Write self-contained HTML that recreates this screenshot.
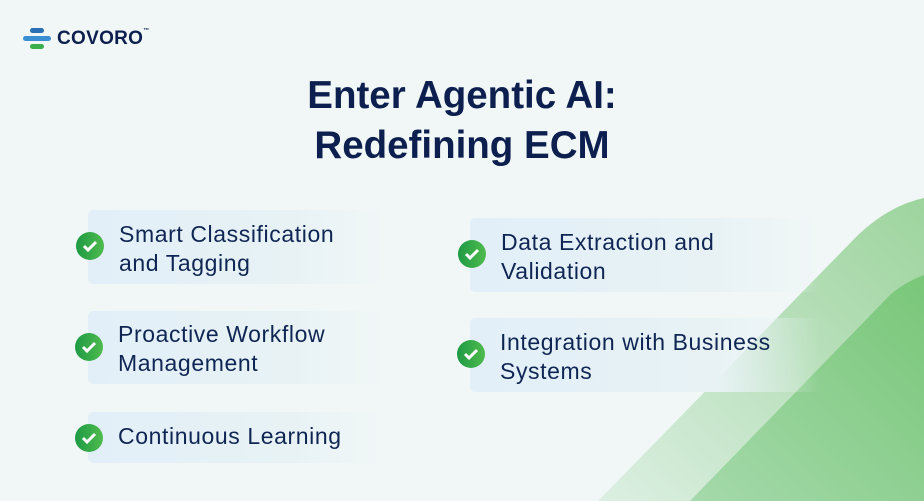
<!DOCTYPE html>
<html><head><style>
body{margin:0;width:924px;height:501px;overflow:hidden;background:#f1f7f7;font-family:"Liberation Sans",sans-serif;position:relative}
.card{position:absolute;border-radius:5px;background:linear-gradient(90deg,#e2eff8 0%,#e8f2f5 70%,rgba(236,244,246,0) 100%)}
.t{position:absolute;color:#0f2553;font-size:23px;line-height:29px;letter-spacing:0.6px}
.ic{position:absolute;width:28px;height:28px;border-radius:50%;background:linear-gradient(90deg,#1e9a45,#4fbb4d)}
.ic svg{position:absolute;left:6px;top:7px}
h1{position:absolute;left:0;width:924px;top:71px;margin:0;text-align:center;font-size:38.5px;line-height:50px;color:#0d1f4e;font-weight:bold}
</style></head><body>
<svg width="924" height="501" style="position:absolute;left:0;top:0">
<defs><linearGradient id="g1" x1="0" y1="1" x2="1" y2="0"><stop offset="0" stop-color="#dcefe2"/><stop offset="1" stop-color="#9dd49d"/></linearGradient>
<linearGradient id="g2" x1="0" y1="1" x2="1" y2="0"><stop offset="0" stop-color="#a5d9ab"/><stop offset="1" stop-color="#79c779"/></linearGradient></defs>
<path d="M598 501 L858 235 Q890 205 924 198 L924 501 Z" fill="url(#g1)"/>
<path d="M690 501 L890 295 Q905 282 924 275 L924 501 Z" fill="url(#g2)"/>
</svg>
<div style="position:absolute;left:30px;top:28px;width:14px;height:5px;border-radius:3px;background:#2a6fb3"></div>
<div style="position:absolute;left:23px;top:36px;width:28px;height:5px;border-radius:3px;background:#3a8fd2"></div>
<div style="position:absolute;left:30px;top:44px;width:14px;height:5px;border-radius:3px;background:#3aae4c"></div>
<div style="position:absolute;left:57px;top:28px;font-size:19px;font-weight:bold;color:#0d1f4e;letter-spacing:0.3px">COVORO<sup style="font-size:6px;vertical-align:top">™</sup></div>
<h1>Enter Agentic AI:<br>Redefining ECM</h1>

<div class="card" style="left:88px;top:210px;width:298px;height:74px"></div>
<div class="ic" style="left:76px;top:232px"><svg width="16" height="14"><path d="M2 7 L6 11 L14 3" stroke="#fff" stroke-width="3" fill="none"/></svg></div>
<div class="t" style="left:119px;top:220px">Smart Classification<br>and Tagging</div>

<div class="card" style="left:88px;top:311px;width:296px;height:73px"></div>
<div class="ic" style="left:75px;top:333px"><svg width="16" height="14"><path d="M2 7 L6 11 L14 3" stroke="#fff" stroke-width="3" fill="none"/></svg></div>
<div class="t" style="left:118px;top:320px">Proactive Workflow<br>Management</div>

<div class="card" style="left:88px;top:412px;width:294px;height:51px"></div>
<div class="ic" style="left:75px;top:424px"><svg width="16" height="14"><path d="M2 7 L6 11 L14 3" stroke="#fff" stroke-width="3" fill="none"/></svg></div>
<div class="t" style="left:118px;top:422px">Continuous Learning</div>

<div class="card" style="left:470px;top:218px;width:350px;height:74px"></div>
<div class="ic" style="left:458px;top:240px"><svg width="16" height="14"><path d="M2 7 L6 11 L14 3" stroke="#fff" stroke-width="3" fill="none"/></svg></div>
<div class="t" style="left:501px;top:228px">Data Extraction and<br>Validation</div>

<div class="card" style="left:470px;top:318px;width:350px;height:74px"></div>
<div class="ic" style="left:457px;top:340px"><svg width="16" height="14"><path d="M2 7 L6 11 L14 3" stroke="#fff" stroke-width="3" fill="none"/></svg></div>
<div class="t" style="left:500px;top:328px">Integration with Business<br>Systems</div>
</body></html>
